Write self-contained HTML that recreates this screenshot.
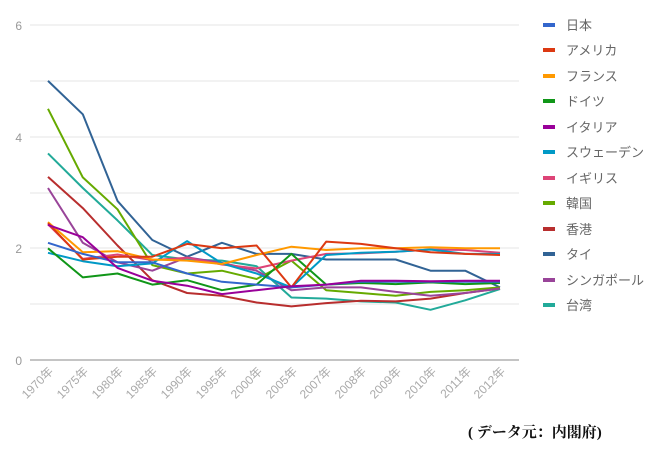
<!DOCTYPE html>
<html><head><meta charset="utf-8"><style>
body{margin:0;width:654px;height:459px;background:#fff;overflow:hidden;font-family:"Liberation Sans","Noto Sans CJK JP",sans-serif}
svg{position:absolute;left:0;top:0}
</style></head><body>
<svg id="s" width="654" height="459" xmlns="http://www.w3.org/2000/svg">
<g stroke="#e6e6e6" stroke-width="1">
<line x1="30" x2="519" y1="25" y2="25"/><line x1="30" x2="519" y1="81" y2="81"/>
<line x1="30" x2="519" y1="137" y2="137"/><line x1="30" x2="519" y1="193" y2="193"/>
<line x1="30" x2="519" y1="248" y2="248"/><line x1="30" x2="519" y1="304" y2="304"/>
</g>
<line x1="30" x2="519" y1="360" y2="360" stroke="#888" stroke-width="1"/>
<g font-size="12" fill="#999" text-anchor="end">
<text x="22" y="30">6</text><text x="22" y="142">4</text><text x="22" y="253">2</text><text x="22" y="365">0</text>
</g>
<g id="series" fill="none" stroke-width="2" stroke-linejoin="round"></g>
<g font-size="12" fill="#aaa" text-anchor="end" id="xl">
<text transform="translate(54,372) rotate(-45)">1970年</text>
<text transform="translate(89,372) rotate(-45)">1975年</text>
<text transform="translate(124,372) rotate(-45)">1980年</text>
<text transform="translate(158,372) rotate(-45)">1985年</text>
<text transform="translate(193,372) rotate(-45)">1990年</text>
<text transform="translate(228,372) rotate(-45)">1995年</text>
<text transform="translate(263,372) rotate(-45)">2000年</text>
<text transform="translate(298,372) rotate(-45)">2005年</text>
<text transform="translate(332,372) rotate(-45)">2007年</text>
<text transform="translate(367,372) rotate(-45)">2008年</text>
<text transform="translate(402,372) rotate(-45)">2009年</text>
<text transform="translate(437,372) rotate(-45)">2010年</text>
<text transform="translate(472,372) rotate(-45)">2011年</text>
<text transform="translate(506,372) rotate(-45)">2012年</text>
</g>
<g font-size="13" fill="#666">
<rect x="543" y="23" width="12" height="4" fill="#3366cc"/><text x="566" y="30">日本</text>
<rect x="543" y="48" width="12" height="4" fill="#dc3912"/><text x="566" y="55">アメリカ</text>
<rect x="543" y="74" width="12" height="4" fill="#ff9900"/><text x="566" y="81">フランス</text>
<rect x="543" y="99" width="12" height="4" fill="#109618"/><text x="566" y="106">ドイツ</text>
<rect x="543" y="125" width="12" height="4" fill="#990099"/><text x="566" y="132">イタリア</text>
<rect x="543" y="150" width="12" height="4" fill="#0099c6"/><text x="566" y="157">スウェーデン</text>
<rect x="543" y="176" width="12" height="4" fill="#dd4477"/><text x="566" y="183">イギリス</text>
<rect x="543" y="201" width="12" height="4" fill="#66aa00"/><text x="566" y="208">韓国</text>
<rect x="543" y="227" width="12" height="4" fill="#b82e2e"/><text x="566" y="234">香港</text>
<rect x="543" y="252" width="12" height="4" fill="#316395"/><text x="566" y="259">タイ</text>
<rect x="543" y="278" width="12" height="4" fill="#994499"/><text x="566" y="285">シンガポール</text>
<rect x="543" y="303" width="12" height="4" fill="#22aa99"/><text x="566" y="310">台湾</text>
</g>
<text x="468" y="437" font-size="15" font-weight="bold" fill="#111" font-family="'Liberation Serif','Noto Serif CJK SC',serif">( データ元：内閣府)</text>
</svg>
<script>
var D=[
["#316395",[5.0,4.4,2.85,2.15,1.85,2.1,1.9,1.9,1.8,1.8,1.8,1.6,1.6,1.3]],
["#22aa99",[3.7,3.08,2.5,1.88,1.8,1.78,1.68,1.12,1.1,1.05,1.03,0.9,1.07,1.27]],
["#66aa00",[4.5,3.27,2.7,1.7,1.55,1.6,1.45,1.78,1.25,1.2,1.15,1.22,1.25,1.3]],
["#b82e2e",[3.28,2.72,2.05,1.43,1.2,1.15,1.03,0.96,1.02,1.06,1.05,1.1,1.2,1.28]],
["#994499",[3.08,2.1,1.75,1.6,1.84,1.74,1.6,1.25,1.3,1.3,1.22,1.15,1.2,1.28]],
["#dd4477",[2.43,1.81,1.89,1.79,1.83,1.71,1.64,1.78,1.9,1.91,1.94,1.98,1.97,1.92]],
["#0099c6",[1.92,1.77,1.68,1.73,2.13,1.73,1.55,1.3,1.88,1.92,1.94,1.98,1.9,1.9]],
["#109618",[2.0,1.48,1.55,1.35,1.43,1.25,1.35,1.9,1.35,1.38,1.36,1.39,1.36,1.38]],
["#ff9900",[2.47,1.93,1.95,1.8,1.78,1.72,1.88,2.03,1.97,2.0,2.0,2.02,2.0,2.0]],
["#dc3912",[2.45,1.8,1.85,1.85,2.08,2.0,2.05,1.3,2.12,2.08,2.0,1.93,1.9,1.88]],
["#3366cc",[2.1,1.9,1.75,1.75,1.55,1.4,1.35,1.3,1.35,1.4,1.4,1.4,1.4,1.4]],
["#990099",[2.42,2.2,1.65,1.42,1.33,1.18,1.25,1.32,1.35,1.42,1.42,1.41,1.42,1.42]]
];
var g=document.getElementById("series"),h="";
D.forEach(function(s){var p=s[1].map(function(v,i){return (48+34.77*i).toFixed(1)+","+(360-55.83*v).toFixed(1)}).join(" ");
h+='<polyline stroke="'+s[0]+'" points="'+p+'"/>';});
g.innerHTML=h;
</script>
</body></html>
